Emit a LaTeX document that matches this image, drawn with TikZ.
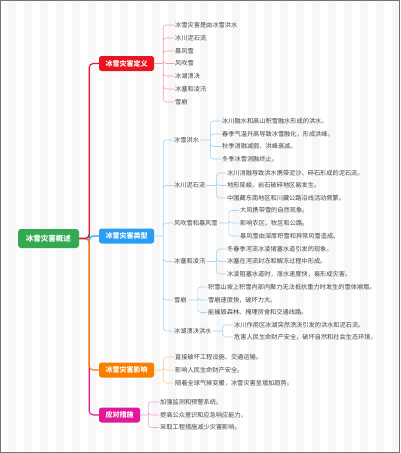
\documentclass[tikz,border=0pt]{standalone}
\usepackage{fontspec}
\setmainfont{Noto Sans CJK SC}
\usepackage{xcolor}
\usetikzlibrary{positioning, calc}

\definecolor{cRed}{HTML}{E8141E}
\definecolor{cBlue}{HTML}{2A9DF4}
\definecolor{cOrange}{HTML}{FA7E00}
\definecolor{cPink}{HTML}{E0199A}
\definecolor{cGreen}{HTML}{34A853}
\definecolor{cText}{HTML}{444444}

\begin{document}
\begin{tikzpicture}[
  x=1pt, y=-1pt,
  rootbox/.style={rectangle, rounded corners=3pt, fill=cGreen, text=white, font=\fontsize{7.5}{9}\selectfont\bfseries, minimum width=61pt, minimum height=19pt, inner sep=0pt},
  catbox/.style={rectangle, rounded corners=2.5pt, text=white, font=\fontsize{7}{8}\selectfont\bfseries, minimum width=55pt, minimum height=15pt, inner sep=0pt},
  topic/.style={anchor=west, inner sep=1pt, text=cText, font=\fontsize{6.2}{7}\selectfont},
  leaf/.style={anchor=west, inner sep=1pt, text=cText, font=\fontsize{6.2}{7}\selectfont},
  trunk/.style={line width=1.1pt, rounded corners=4pt},
  twig/.style={line width=0.6pt, rounded corners=3pt}
]
  % background
  \useasboundingbox (0,0) rectangle (400,453);
  \fill[white] (0,0) rectangle (400,453);
  \foreach \s in {0,...,24} \fill[black!3] ({8+16*\s},0) rectangle ++(8,453);

  % main nodes
  \node[rootbox] (root) at (48.5,238.5) {冰雪灾害概述};
  \node[catbox, fill=cRed] (defn) at (126.5,63.5) {冰雪灾害定义};
  \node[catbox, fill=cBlue] (kinds) at (126.5,236) {冰雪灾害类型};
  \node[catbox, fill=cOrange] (impact) at (126.5,370) {冰雪灾害影响};
  \node[catbox, fill=cPink, minimum width=41pt] (measure) at (119.5,415) {应对措施};

  \draw[trunk, cPink] (root.east) -- ++(10,0) |- (measure.west);
  \draw[trunk, cOrange] (root.east) -- ++(10,0) |- (impact.west);
  \draw[trunk, cBlue] (root.east) -- ++(10,0) |- (kinds.west);
  \draw[trunk, cRed] (root.east) -- ++(10,0) |- (defn.west);

  % definition
  \node[leaf] (d1) at (174,25) {冰雪灾害是由冰雪洪水};
  \node[leaf] (d2) at (174,38) {冰川泥石流};
  \node[leaf] (d3) at (174,51) {暴风雪};
  \node[leaf] (d4) at (174,63.5) {风吹雪};
  \node[leaf] (d5) at (174,76) {冰湖溃决};
  \node[leaf] (d6) at (174,89) {冰塞和凌汛};
  \node[leaf] (d7) at (174,102) {雪崩};
  \coordinate (dj) at ($(defn.east)+(9,0)$);
  \draw[twig, cRed!40] (defn.east) -- (dj) (dj) |- (d1.west) (dj) |- (d2.west) (dj) |- (d3.west) (dj) |- (d4.west) (dj) |- (d5.west) (dj) |- (d6.west) (dj) |- (d7.west);

  % types
  \node[topic] (k1) at (173,140) {冰雪洪水};
  \node[topic] (k2) at (173,185.5) {冰川泥石流};
  \node[topic] (k3) at (173,223) {风吹雪和暴风雪};
  \node[topic] (k4) at (173,261.5) {冰塞和凌汛};
  \node[topic] (k5) at (173,300) {雪崩};
  \node[topic] (k6) at (173,331) {冰湖溃决洪水};
  \coordinate (kj) at ($(kinds.east)+(9,0)$);
  \draw[twig, cBlue!45] (kinds.east) -- (kj) (kj) |- (k1.west) (kj) |- (k2.west) (kj) |- (k3.west) (kj) |- (k4.west) (kj) |- (k5.west) (kj) |- (k6.west);

  \node[leaf] (k1a) at (221,121) {冰川融水和高山积雪融水形成的洪水。};
  \node[leaf] (k1b) at (221,134) {春季气温升高导致冰雪融化，形成洪峰。};
  \node[leaf] (k1c) at (221,146.5) {秋季消融减弱，洪峰衰减。};
  \node[leaf] (k1d) at (221,159) {冬季冰雪消融终止。};
  \coordinate (k1j) at ($(k1.east)+(10,0)$);
  \draw[twig, cBlue!45] (k1.east) -- (k1j) (k1j) |- (k1a.west) (k1j) |- (k1b.west) (k1j) |- (k1c.west) (k1j) |- (k1d.west);

  \node[leaf] (k2a) at (226,173) {冰川消融导致洪水携带泥沙、碎石形成的泥石流。};
  \node[leaf] (k2b) at (226,185.5) {地形陡峻、岩石破碎地区易发生。};
  \node[leaf] (k2c) at (226,198) {中国藏东南地区和川藏公路沿线活动频繁。};
  \coordinate (k2j) at ($(k2.east)+(10,0)$);
  \draw[twig, cBlue!45] (k2.east) -- (k2j) (k2j) |- (k2a.west) (k2j) |- (k2b.west) (k2j) |- (k2c.west);

  \node[leaf] (k3a) at (239,210.5) {大风携带雪的自然现象。};
  \node[leaf] (k3b) at (239,223) {影响农区、牧区和公路。};
  \node[leaf] (k3c) at (239,236) {暴风雪由深厚积雪和异常风雪造成。};
  \coordinate (k3j) at ($(k3.east)+(10,0)$);
  \draw[twig, cBlue!45] (k3.east) -- (k3j) (k3j) |- (k3a.west) (k3j) |- (k3b.west) (k3j) |- (k3c.west);

  \node[leaf] (k4a) at (226,249) {冬春季河流冰凌堵塞水道引发的现象。};
  \node[leaf] (k4b) at (226,261.5) {冰塞在河流封冻和解冻过程中形成。};
  \node[leaf] (k4c) at (226,274) {冰凌阻塞水道时，涨水速度快，易形成灾害。};
  \coordinate (k4j) at ($(k4.east)+(10,0)$);
  \draw[twig, cBlue!45] (k4.east) -- (k4j) (k4j) |- (k4a.west) (k4j) |- (k4b.west) (k4j) |- (k4c.west);

  \node[leaf] (k5a) at (207,287) {积雪山坡上积雪内部内聚力无法抵抗重力时发生的雪体崩塌。};
  \node[leaf] (k5b) at (207,300) {雪崩速度快，破坏力大。};
  \node[leaf] (k5c) at (207,312.5) {能摧毁森林、掩埋房舍和交通线路。};
  \coordinate (k5j) at ($(k5.east)+(10,0)$);
  \draw[twig, cBlue!45] (k5.east) -- (k5j) (k5j) |- (k5a.west) (k5j) |- (k5b.west) (k5j) |- (k5c.west);

  \node[leaf] (k6a) at (233,325) {冰川作用区冰湖突然溃决引发的洪水和泥石流。};
  \node[leaf] (k6b) at (233,337) {危害人民生命财产安全，破坏自然和社会生态环境。};
  \coordinate (k6j) at ($(k6.east)+(10,0)$);
  \draw[twig, cBlue!45] (k6.east) -- (k6j) (k6j) |- (k6a.west) (k6j) |- (k6b.west);

  % impact
  \node[leaf] (i1) at (174,357) {直接破坏工程设施、交通运输。};
  \node[leaf] (i2) at (174,370) {影响人民生命财产安全。};
  \node[leaf] (i3) at (174,383) {随着全球气候变暖，冰雪灾害呈增加趋势。};
  \coordinate (ij) at ($(impact.east)+(9,0)$);
  \draw[twig, cOrange!40] (impact.east) -- (ij) (ij) |- (i1.west) (ij) |- (i2.west) (ij) |- (i3.west);

  % measures
  \node[leaf] (m1) at (159,402) {加强监测和预警系统。};
  \node[leaf] (m2) at (159,415) {提高公众意识和应急响应能力。};
  \node[leaf] (m3) at (159,427.5) {采取工程措施减少灾害影响。};
  \coordinate (mj) at ($(measure.east)+(8,0)$);
  \draw[twig, cPink!40] (measure.east) -- (mj) (mj) |- (m1.west) (mj) |- (m2.west) (mj) |- (m3.west);

  % frame
  \draw[black!55, line width=1pt] (0.5,0.5) rectangle (399.5,452);
\end{tikzpicture}
\end{document}
